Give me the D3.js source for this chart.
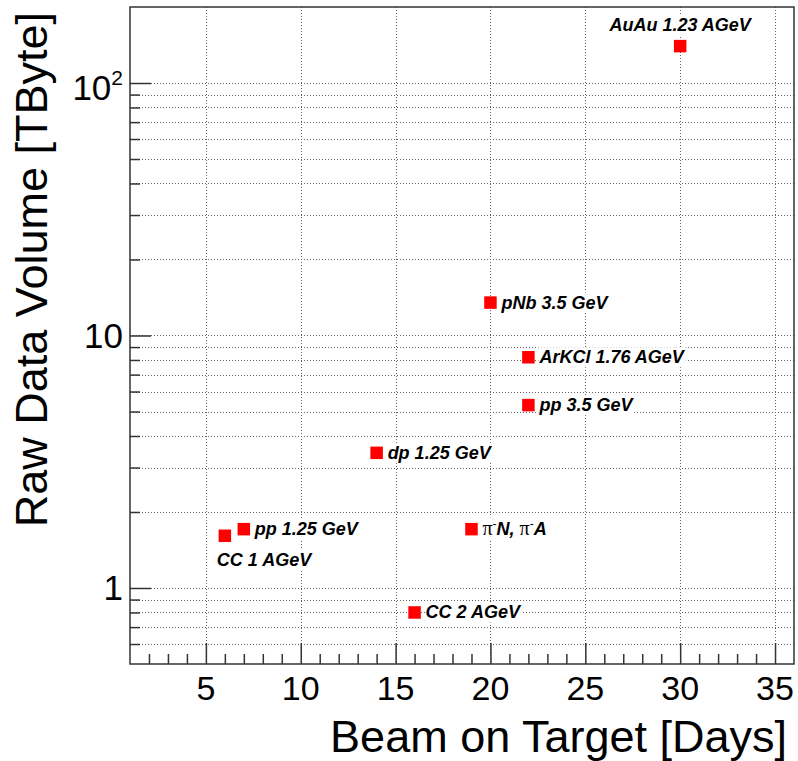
<!DOCTYPE html>
<html>
<head>
<meta charset="utf-8">
<script src="https://cdn.jsdelivr.net/npm/d3@7"></script>
<style>
  html, body { margin: 0; padding: 0; background: #fff; }
  svg { display: block; }
</style>
</head>
<body>
<svg id="chart" width="798" height="761"></svg>
<script>
// ---- data ----
const runLabels = ["AuAu 1.23 AGeV", "pNb 3.5 GeV", "ArKCl 1.76 AGeV", "pp 3.5 GeV", "dp 1.25 GeV",
                   "pp 1.25 GeV", "CC 1 AGeV", "π⁻N, π⁻A", "CC 2 AGeV"];
const beamDays = [30, 20, 22, 22, 14, 7, 6, 19, 16];
const rawVolume = [140, 13.5, 8.2, 5.3, 3.43, 1.71, 1.61, 1.71, 0.80];
const labelSide = ["above", "right", "right", "right", "right", "right", "below", "right", "right"];
const xTickValues = [5, 10, 15, 20, 25, 30, 35];
const yTickValues = [1, 10, 100];
const yTickLabels = ["1", "10", "10^2"];
const xTitle = "Beam on Target [Days]";
const yTitle = "Raw Data Volume [TByte]";

// ---- layout ----
const frame = { left: 130, right: 794, top: 7, bottom: 664 };
const FONT = "'Liberation Sans', Arial, Helvetica, sans-serif";

const svg = d3.select("#chart");
const x = d3.scaleLinear().domain([1, 36]).range([frame.left, frame.right]);
const y = d3.scaleLog().domain([0.5, 200]).range([frame.bottom, frame.top]);

// minor ticks
const xMinor = d3.range(2, 36).filter(v => v % 5 !== 0);
const yMinor = [];
[0.1, 1, 10, 100].forEach(dec => {
  for (let k = 2; k <= 9; k++) {
    const v = dec * k;
    if (v > 0.5 && v < 200) yMinor.push(v);
  }
});

// ---- grid ----
const grid = svg.append("g").attr("stroke", "#606060").attr("stroke-width", 1)
  .attr("stroke-dasharray", "1,2").attr("fill", "none");
grid.selectAll("line.gx").data(xTickValues).join("line")
  .attr("x1", d => Math.round(x(d)) + 0.5).attr("x2", d => Math.round(x(d)) + 0.5)
  .attr("y1", frame.top).attr("y2", frame.bottom);
grid.selectAll("line.gy").data(yTickValues.concat(yMinor)).join("line")
  .attr("y1", d => Math.round(y(d)) + 0.5).attr("y2", d => Math.round(y(d)) + 0.5)
  .attr("x1", frame.left).attr("x2", frame.right);

// ---- axes (ticks inward) ----
function styleAxis(g) {
  g.select(".domain").remove();
  g.selectAll(".tick line").attr("stroke", "#333").attr("stroke-width", 1.5);
  g.selectAll(".tick text").remove();
}
svg.append("g").attr("transform", `translate(0,${frame.bottom})`)
  .call(d3.axisBottom(x).tickValues(xTickValues).tickSize(-21)).call(styleAxis);
svg.append("g").attr("transform", `translate(0,${frame.bottom})`)
  .call(d3.axisBottom(x).tickValues(xMinor).tickSize(-10)).call(styleAxis);
svg.append("g").attr("transform", `translate(${frame.left},0)`)
  .call(d3.axisLeft(y).tickValues(yTickValues).tickSize(-21)).call(styleAxis);
svg.append("g").attr("transform", `translate(${frame.left},0)`)
  .call(d3.axisLeft(y).tickValues(yMinor).tickSize(-10)).call(styleAxis);

// frame
svg.append("rect")
  .attr("x", frame.left).attr("y", frame.top)
  .attr("width", frame.right - frame.left).attr("height", frame.bottom - frame.top)
  .attr("fill", "none").attr("stroke", "#333").attr("stroke-width", 1.5);

// ---- tick labels ----
svg.append("g").selectAll("text").data(xTickValues).join("text")
  .attr("x", d => x(d)).attr("y", 700)
  .attr("text-anchor", "middle")
  .attr("font-family", FONT).attr("font-size", 34).attr("fill", "#000")
  .text(d => d);

const yl = svg.append("g").selectAll("text").data(yTickValues).join("text")
  .attr("x", 123).attr("y", d => y(d) + 12)
  .attr("text-anchor", "end")
  .attr("font-family", FONT).attr("font-size", 35).attr("fill", "#000");
yl.each(function(d, i) {
  const lab = yTickLabels[i];
  const t = d3.select(this);
  if (lab.includes("^")) {
    const [base, exp] = lab.split("^");
    t.attr("y", y(d) + 17);
    t.append("tspan").text(base);
    t.append("tspan").attr("font-size", 21).attr("dy", -15).text(exp);
  } else {
    t.text(lab);
  }
});

// ---- axis titles ----
svg.append("text")
  .attr("x", 787).attr("y", 752)
  .attr("text-anchor", "end")
  .attr("font-family", FONT).attr("font-size", 45).attr("fill", "#000")
  .text(xTitle);
svg.append("text")
  .attr("transform", "translate(47,12) rotate(-90)")
  .attr("text-anchor", "end")
  .attr("font-family", FONT).attr("font-size", 45).attr("fill", "#000")
  .text(yTitle);

// ---- markers ----
const pts = runLabels.map((l, i) => ({ label: l, x: beamDays[i], y: rawVolume[i], side: labelSide[i] }));
const ms = 12.5;
svg.append("g").selectAll("rect").data(pts).join("rect")
  .attr("x", d => x(d.x) - ms / 2).attr("y", d => y(d.y) - ms / 2)
  .attr("width", ms).attr("height", ms)
  .attr("fill", "#ff0000");

// ---- labels with white boxes ----
const lg = svg.append("g");
pts.forEach(d => {
  const px = x(d.x), py = y(d.y);
  const g = lg.append("g");
  const bg = g.append("rect").attr("fill", "#fff");
  const t = g.append("text")
    .attr("font-family", FONT).attr("font-size", 18)
    .attr("font-weight", "bold").attr("font-style", "italic").attr("fill", "#000");
  if (d.side === "right") {
    t.attr("x", px + 11).attr("y", py + 6).attr("text-anchor", "start");
  } else if (d.side === "above") {
    t.attr("x", px).attr("y", py - 15).attr("text-anchor", "middle");
  } else {
    t.attr("x", px - 8).attr("y", py + 30).attr("text-anchor", "start");
  }
  // split out greek pi with superscript minus
  const parts = d.label.split(/(π⁻)/).filter(s => s.length);
  let pendingDy = 0;
  parts.forEach(p => {
    if (p === "π⁻") {
      t.append("tspan").attr("font-weight", "normal").attr("font-style", "normal")
        .attr("font-family", "'Liberation Serif', 'DejaVu Serif', serif").attr("font-size", 20)
        .attr("dy", pendingDy).text("π");
      t.append("tspan").attr("font-weight", "normal").attr("font-style", "normal")
        .attr("font-size", 12).attr("dy", -7).text("-");
      pendingDy = 7;
    } else {
      t.append("tspan").attr("dy", pendingDy).text(p);
      pendingDy = 0;
    }
  });
  const bb = t.node().getBBox();
  bg.attr("x", bb.x).attr("y", bb.y).attr("width", bb.width).attr("height", bb.height);
});
</script>
</body>
</html>
